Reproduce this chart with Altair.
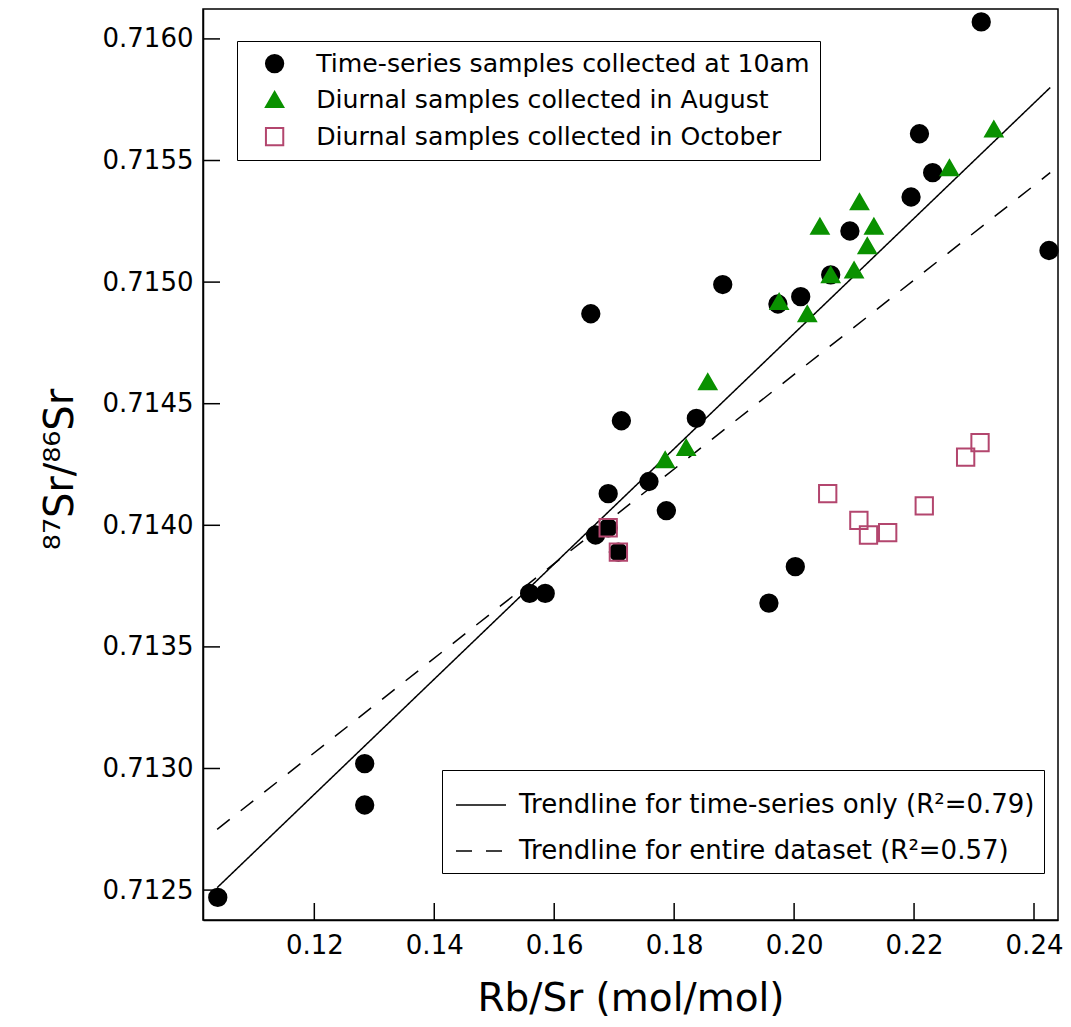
import altair as alt
import pandas as pd

# ---------------- data ----------------
series_names = [
    "Time-series samples collected at 10am",
    "Diurnal samples collected in August",
    "Diurnal samples collected in October",
]
trend_names = [
    "Trendline for time-series only (R²=0.79)",
    "Trendline for entire dataset (R²=0.57)",
]

ts_x = [0.1039, 0.1284, 0.1284, 0.1559, 0.1585, 0.1669, 0.1690, 0.1712, 0.1758,
        0.1787, 0.1837, 0.1881, 0.1661, 0.2011, 0.2312, 0.2209, 0.2231, 0.2195,
        0.2093, 0.2061, 0.1973, 0.2425, 0.2002, 0.1958, 0.1690, 0.1707]
ts_y = [0.71247, 0.71302, 0.71285, 0.71372, 0.71372, 0.71396, 0.71413, 0.71443, 0.71418,
        0.71406, 0.71444, 0.71499, 0.71487, 0.71494, 0.71607, 0.71561, 0.71545, 0.71535,
        0.71521, 0.71503, 0.71491, 0.71513, 0.71383, 0.71368, 0.71399, 0.71389]

aug_x = [0.2333, 0.2259, 0.2109, 0.2043, 0.2133, 0.2122, 0.2100, 0.2061, 0.1975,
         0.2022, 0.1856, 0.1820, 0.1785]
aug_y = [0.71563, 0.71547, 0.71533, 0.71523, 0.71523, 0.71515, 0.71505, 0.71503, 0.71492,
         0.71487, 0.71459, 0.71432, 0.71427]

oct_x = [0.1690, 0.1707, 0.2056, 0.2108, 0.2124, 0.2156, 0.2217, 0.2286, 0.2310]
oct_y = [0.71399, 0.71389, 0.71413, 0.71402, 0.71396, 0.71397, 0.71408, 0.71428, 0.71434]

trend_x = [0.1038, 0.2427]
trend_solid_y = [0.71251, 0.71580]
trend_dashed_y = [0.71275, 0.71545]

x_ticks = [0.12, 0.14, 0.16, 0.18, 0.20, 0.22, 0.24]
y_ticks = [0.7125, 0.7130, 0.7135, 0.7140, 0.7145, 0.7150, 0.7155, 0.7160]

# ---------------- tables ----------------
points_df = pd.DataFrame({
    "x": ts_x + aug_x + oct_x,
    "y": ts_y + aug_y + oct_y,
    "series": [series_names[0]] * len(ts_x) + [series_names[1]] * len(aug_x)
              + [series_names[2]] * len(oct_x),
})
points_df["order"] = range(len(points_df))

trend_df = pd.DataFrame({
    "x": trend_x + trend_x,
    "y": trend_solid_y + trend_dashed_y,
    "trend": [trend_names[0]] * 2 + [trend_names[1]] * 2,
})

W, H = 855, 911
FONT = "DejaVu Sans"

xs = alt.Scale(domain=[0.10144, 0.24400], nice=False, zero=False)
ys = alt.Scale(domain=[0.712377, 0.716123], nice=False, zero=False)

x_axis = alt.Axis(values=x_ticks, format=".2f", tickSize=0, labelPadding=12, grid=False,
                  title="Rb/Sr (mol/mol)", titleFontSize=39, titleFontWeight="normal",
                  titlePadding=21, labelFontSize=26, labelColor="black", titleColor="black",
                  domainColor="black", domainWidth=1.5, labelFlush=False)
y_axis = alt.Axis(values=y_ticks, format=".4f", tickSize=0, labelPadding=10, grid=False,
                  title="⁸⁷Sr/⁸⁶Sr", titleFontSize=40, titleFontWeight="normal",
                  titleX=-131, titleY=460, titleAngle=270, titleBaseline="alphabetic",
                  titleAlign="center", labelFontSize=26, labelColor="black", titleColor="black",
                  domainColor="black", domainWidth=1.5, labelFlush=False)

X = alt.X("x:Q", scale=xs, axis=x_axis)
Y = alt.Y("y:Q", scale=ys, axis=y_axis)

pt_legend = alt.Legend(title=None, orient="none", legendX=34, legendY=32,
                       fillColor="white", strokeColor="black", padding=10,
                       symbolOffset=15, labelFontSize=25.2, labelFont=FONT, labelColor="black",
                       symbolSize=300, symbolStrokeWidth=2, rowPadding=10,
                       labelOffset=29, labelLimit=0)

tr_legend = alt.Legend(title=None, orient="none", legendX=239, legendY=761,
                       fillColor="white", strokeColor="black", padding=9,
                       symbolOffset=4, symbolType="stroke", symbolSize=2500,
                       symbolStrokeColor="black", symbolStrokeWidth=1.5,
                       labelFontSize=26, labelFont=FONT, labelColor="black",
                       rowPadding=7, labelOffset=12, labelLimit=0)

trend = alt.Chart(trend_df).mark_line(color="black", strokeWidth=1.5).encode(
    x=X, y=Y,
    detail="trend:N",
    strokeDash=alt.StrokeDash("trend:N",
                              scale=alt.Scale(domain=trend_names, range=[[1, 0], [16, 14]]),
                              legend=tr_legend),
)

points = alt.Chart(points_df).mark_point(filled=True, size=300, strokeWidth=2, opacity=1).encode(
    x=X, y=Y,
    shape=alt.Shape("series:N", scale=alt.Scale(domain=series_names,
                                                range=["circle", "triangle-up", "square"]),
                    legend=pt_legend),
    fill=alt.Fill("series:N", scale=alt.Scale(domain=series_names,
                                              range=["black", "#0a9100", "transparent"]),
                  legend=pt_legend),
    stroke=alt.Stroke("series:N", scale=alt.Scale(domain=series_names,
                                                  range=["black", "#0a9100", "#b3466e"]),
                      legend=pt_legend),
    order="order:Q",
)

xt = alt.Chart(pd.DataFrame({"x": x_ticks})).mark_rule(color="black", strokeWidth=1.5).encode(
    x=X, y=alt.value(H - 17), y2=alt.value(H)
)
yt = alt.Chart(pd.DataFrame({"y": y_ticks})).mark_rule(color="black", strokeWidth=1.5).encode(
    y=Y, x=alt.value(0), x2=alt.value(17)
)

chart = alt.layer(xt, yt, trend, points).properties(
    width=W, height=H,
    autosize=alt.AutoSizeParams(type="none"),
    padding={"left": 195, "top": 1, "right": 5, "bottom": 98},
).configure(font=FONT).configure_view(stroke="black", strokeWidth=1.5)

chart.save("out.html", embed_options={"renderer": "svg", "actions": False})
